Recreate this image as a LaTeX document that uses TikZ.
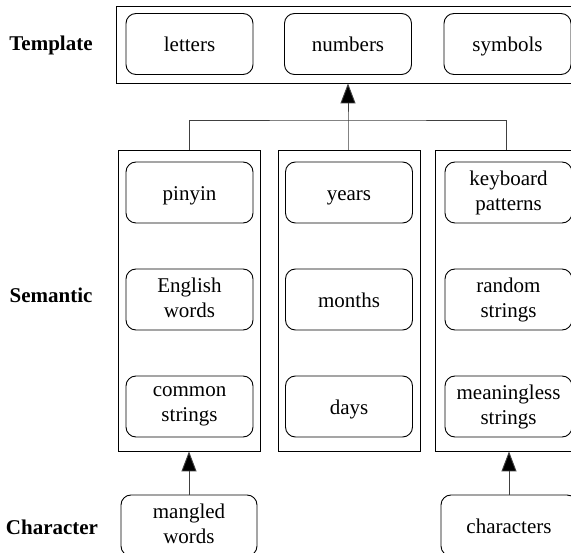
\documentclass[tikz,border=0pt]{standalone}
\usepackage{fontspec}
\setmainfont{Liberation Serif}
\usetikzlibrary{arrows.meta}
% invisible strut that fixes the height and depth of each text line
\newcommand\linestrut{\rule[-4.5pt]{0pt}{25pt}}
\begin{document}
\begin{tikzpicture}[x=1pt,y=-1pt,
  every node/.style={font=\fontsize{21}{25}\selectfont},
  item/.style={draw, line width=0.9pt, rounded corners=10pt, align=center,
    minimum width=127pt, minimum height=61pt, inner sep=0pt,
    execute at begin node=\linestrut, execute at end node=\linestrut},
  wide/.style={item, minimum width=136pt},
  group/.style={draw, line width=0.9pt, minimum width=142pt, minimum height=301pt, inner sep=0pt},
  level/.style={font=\fontsize{21}{25}\selectfont\bfseries},
  link/.style={line width=0.9pt, draw=black!75},
  up/.style={link, -{Triangle[length=20pt, width=15pt, fill=black]}}
]
\clip (0,0) rectangle (571,553);

% level captions
\node[level] (lt) at (51,45) {Template};
\node[level] (ls) at (51,295) {Semantic};
\node[level] (lc) at (52,527) {Character};

% template layer
\node[draw, line width=0.9pt, minimum width=462pt, minimum height=77pt, inner sep=0pt] (tmpl) at (347,44.5) {};
\node[item] (letters) at (189.5,44) {letters};
\node[item] (numbers) at (348,44) {numbers};
\node[item] (symbols) at (507.5,44) {symbols};

% semantic layer groups
\node[group] (colL) at (189,300.5) {};
\node[group] (colM) at (349,300.5) {};
\node[group] (colR) at (506.5,300.5) {};

\node[item] (pinyin) at (189.5,192.5) {pinyin};
\node[item] (english) at (189.5,299.5) {English\\words};
\node[item] (common) at (189.5,406.5) {common\\strings};

\node[item] (years) at (349,192.5) {years};
\node[item] (months) at (349,299.5) {months};
\node[item] (days) at (349,406.5) {days};

\node[item] (keyboard) at (508.5,192.5) {keyboard\\patterns};
\node[item] (random) at (508.5,299.5) {random\\strings};
\node[item] (meaningless) at (508.5,406.5) {meaningless\\strings};

% character layer
\node[wide] (mangled) at (189,525.5) {mangled\\words};
\node[wide] (chars) at (509,525.5) {characters};

% connectors
\coordinate (join) at (348,120);
\draw[link] (colL.north) |- (join) -| (colR.north);
\draw[up] (colM.north -| join) -- (join) -- (tmpl.south -| join);
\draw[up] (mangled.north -| colL.south) -- (colL.south);
\draw[up] (chars.north) -- (chars.north |- colR.south);
\end{tikzpicture}
\end{document}
